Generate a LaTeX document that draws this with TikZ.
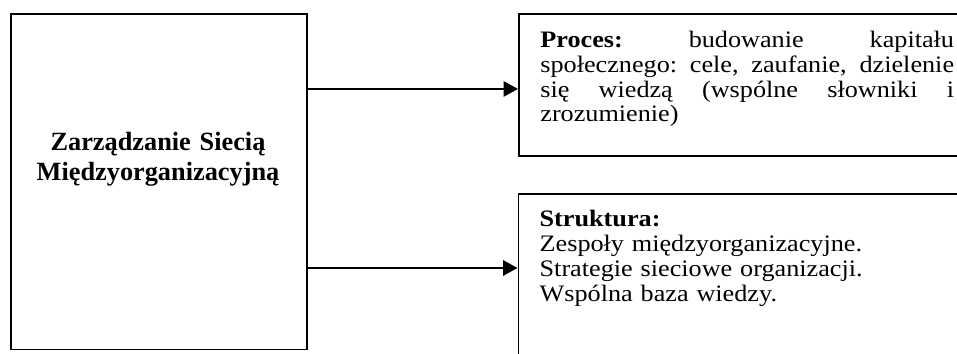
\documentclass[tikz,border=0pt]{standalone}
\usepackage{fontspec}
\setmainfont{Liberation Serif}
\newfontfamily\widefont[FakeStretch=1.11]{Liberation Serif}
\usetikzlibrary{arrows.meta}
\begin{document}
\begin{tikzpicture}[x=0.555pt,y=-0.555pt,
  box/.style={draw,line width=1.1pt,rectangle,inner sep=0pt,anchor=north west},
  arr/.style={line width=1.1pt,-{Triangle[length=8pt,width=8.5pt]}},
  txt/.style={inner sep=0pt,anchor=base west,align=left,font=\widefont\fontsize{13.1}{13.8}\selectfont\frenchspacing},
  title/.style={inner sep=0pt,anchor=base,align=center,text width=160pt,font=\fontsize{14.6}{16.3}\selectfont\bfseries}]
\useasboundingbox (0,0) rectangle (957,354);
\clip (0,0) rectangle (957,354);
\node[box,minimum width=164.3pt,minimum height=186.2pt] (L) at (10,13) {};
\node[box,minimum width=270pt,minimum height=78.5pt] (T) at (518,13.5) {};
\node[box,minimum width=270pt,minimum height=111pt] (B) at (517.5,193) {};
\node[title] (Lt) at (158,150.7) {Zarządzanie Siecią\\Międzyorganizacyjną};
\node[txt,text width=232pt] (Tt) at (540,47.3) {\spaceskip=0pt\xspaceskip=0pt%
\makebox[229.6pt][s]{\textbf{Proces:} budowanie kapitału}\\
\makebox[229.6pt][s]{społecznego: cele, zaufanie, dzielenie}\\
\makebox[229.6pt][s]{się wiedzą (wspólne słowniki i}\\
zrozumienie)};
\node[txt,text width=230pt] (Bt) at (539.3,226.7) {\textbf{Struktura:}\\
Zespoły międzyorganizacyjne.\\
Strategie sieciowe organizacji.\\
Wspólna baza wiedzy.};
\coordinate (ta) at ([yshift=-2.08pt]T.west);
\coordinate (ba) at ([yshift=14.43pt]B.west);
\draw[arr] (ta -| L.east) -- (ta);
\draw[arr] (ba -| L.east) -- (ba);
\end{tikzpicture}
\end{document}
